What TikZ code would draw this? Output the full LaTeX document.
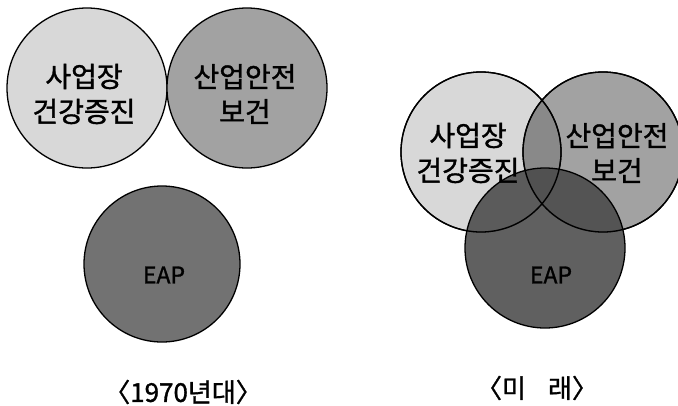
\documentclass[tikz,border=0pt]{standalone}
\usepackage{fontspec}
\setmainfont{Noto Sans CJK KR}[FakeBold=1.2]
\usetikzlibrary{positioning}
\definecolor{lightgr}{HTML}{D8D8D8}
\definecolor{midgr}{HTML}{A2A2A2}
\definecolor{darkgr}{HTML}{727272}
\definecolor{eapgr}{HTML}{4A4A4A}
\begin{document}
\begin{tikzpicture}[x=1pt,y=-1pt,
	field/.style={circle,draw=black,line width=1.3pt,minimum size=160pt,inner sep=0pt},
	fieldtext/.style={align=center,font=\fontsize{28}{35}\selectfont},
	eaptext/.style={font=\fontsize{23}{25}\selectfont},
	caption/.style={font=\fontsize{26}{28}\selectfont}]
		\useasboundingbox (0,0) rectangle (678,405);
		% 1970s: three separate circles
		\node[field,fill=lightgr](hp70) at (87,88){};
		\node[field,fill=midgr](sh70) at (247,88){};
		\node[field,fill=darkgr,minimum size=156pt](eap70) at (162,264){};
		\node[fieldtext](hptext70) at ([shift={(-3,6)}]hp70){사업장\\건강증진};
		\node[fieldtext](shtext70) at ([shift={(-2,6)}]sh70){산업안전\\보건};
		\node[eaptext](eaptext70) at ([shift={(2,11)}]eap70){EAP};
		\node[caption](cap70) at (183,392){〈1970년대〉};
		% future: overlapping circles
		\begin{scope}[blend mode=multiply]
		\node[field,fill=lightgr](hpfut) at (481,152){};
		\node[field,fill=midgr](shfut) at (603,152){};
		\end{scope}
		\node[field,fill=eapgr,fill opacity=0.88](eapfut) at (545,248){};
		\draw[line width=1.3pt] (hpfut) circle[radius=80pt] (shfut) circle[radius=80pt];
		\node[fieldtext](hptextfut) at ([shift={(-13,1)}]hpfut){사업장\\건강증진};
		\node[fieldtext](shtextfut) at ([shift={(14,1)}]shfut){산업안전\\보건};
		\node[eaptext](eaptextfut) at ([shift={(6,27)}]eapfut){EAP};
		\node[caption](capfut) at (537,388){〈미\hspace{0.85em}래〉};
\end{tikzpicture}
\end{document}
